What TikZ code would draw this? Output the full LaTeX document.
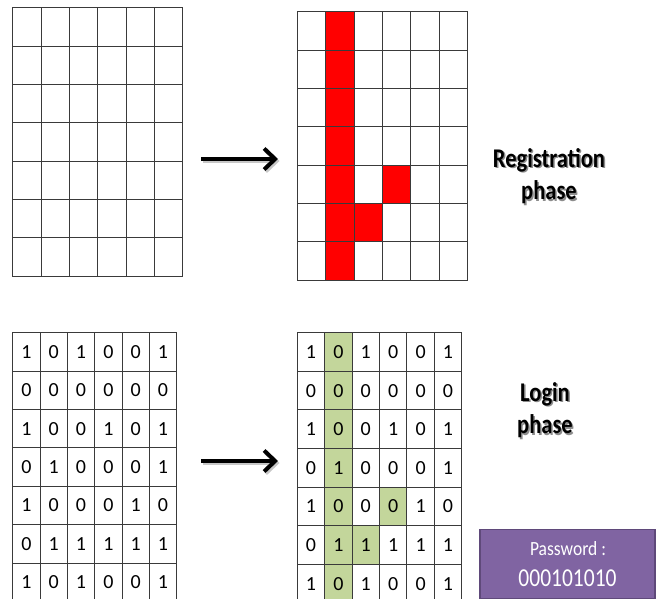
\documentclass[tikz,border=0pt]{standalone}
\usepackage{fontspec}
\setmainfont{Carlito}
\usetikzlibrary{arrows.meta}
\definecolor{gridc}{HTML}{3A3A3A}
\definecolor{cellred}{HTML}{FF0000}
\definecolor{cellgreen}{HTML}{C3D69B}
\definecolor{pwfill}{HTML}{8064A2}
\definecolor{pwdraw}{HTML}{5F497A}
\tikzset{
  cellA/.style={draw=gridc, line width=0.9pt, inner sep=0pt, outer sep=0pt,
    minimum width=28.33pt, minimum height=38.33pt},
  cellB/.style={draw=gridc, line width=0.9pt, inner sep=0pt, outer sep=0pt,
    minimum width=27.35pt, minimum height=38.4pt, font=\fontsize{20}{24}\selectfont},
  redcell/.style={fill=cellred, inner sep=0pt, outer sep=0pt,
    minimum width=28.33pt, minimum height=38.33pt},
  greencell/.style={fill=cellgreen, inner sep=0pt, outer sep=0pt,
    minimum width=27.35pt, minimum height=38.4pt},
  bigarrow/.style={line width=4pt, -{Straight Barb[length=11pt,width=21pt]}},
  arrowshadow/.style={bigarrow, draw=black!22},
  phase/.style={inner sep=0pt, font=\fontsize{22.5}{27}\selectfont\bfseries},
  phaseshadow/.style={phase, text=black!45},
  pwbox/.style={fill=pwfill, draw=pwdraw, line width=1.5pt, minimum width=175pt,
    minimum height=69pt, inner sep=0pt}
}
\newcommand{\phasetext}[2]{\scalebox{1}[1.2]{\begin{tabular}{@{}c@{}}#1\\#2\end{tabular}}}
\begin{document}
\begin{tikzpicture}[x=1pt,y=-1pt]
\clip (0,0) rectangle (659,599);
\fill[white] (0,0) rectangle (659,599);
% top-left empty grid
\foreach \r in {0,...,6}{\foreach \c in {0,...,5}{
  \node[cellA] (tl-\r-\c) at ({12.7+(\c+0.5)*28.33},{7.7+(\r+0.5)*38.33}) {};
}}
% top-right grid with red pattern
\foreach \r/\c in {0/1,1/1,2/1,3/1,4/1,5/1,6/1,4/3,5/2}{
  \node[redcell] (red-\r-\c) at ({297.3+(\c+0.5)*28.33},{11.7+(\r+0.5)*38.33}) {};
}
\foreach \r in {0,...,6}{\foreach \c in {0,...,5}{
  \node[cellA] (tr-\r-\c) at ({297.3+(\c+0.5)*28.33},{11.7+(\r+0.5)*38.33}) {};
}}
% bottom-left digit grid
\foreach \row [count=\r from 0] in {{1,0,1,0,0,1},{0,0,0,0,0,0},{1,0,0,1,0,1},{0,1,0,0,0,1},{1,0,0,0,1,0},{0,1,1,1,1,1},{1,0,1,0,0,1}}{
  \foreach \d [count=\c from 0] in \row {
    \node[cellB] (bl-\r-\c) at ({12.7+(\c+0.5)*27.33},{332.7+(\r+0.5)*38.4}) {\d};
}}
% bottom-right digit grid with green pattern
\foreach \r/\c in {0/1,1/1,2/1,3/1,4/1,5/1,6/1,4/3,5/2}{
  \node[greencell, minimum width=27.4pt, minimum height=38.6pt] (green-\r-\c) at ({297.3+(\c+0.5)*27.4},{332.7+(\r+0.5)*38.6}) {};
}
\foreach \row [count=\r from 0] in {{1,0,1,0,0,1},{0,0,0,0,0,0},{1,0,0,1,0,1},{0,1,0,0,0,1},{1,0,0,0,1,0},{0,1,1,1,1,1},{1,0,1,0,0,1}}{
  \foreach \d [count=\c from 0] in \row {
    \node[cellB, minimum width=27.4pt, minimum height=38.6pt] (br-\r-\c) at ({297.3+(\c+0.5)*27.4},{332.7+(\r+0.5)*38.6}) {\d};
}}
% arrows
\coordinate (a1s) at (201,159);
\coordinate (a1e) at (278,159);
\coordinate (a2s) at (201,461);
\coordinate (a2e) at (278,461);
\coordinate (a1ss) at (202.5,161);
\coordinate (a1es) at (279.5,161);
\coordinate (a2ss) at (202.5,463);
\coordinate (a2es) at (279.5,463);
\draw[arrowshadow] (a1ss) -- (a1es);
\draw[arrowshadow] (a2ss) -- (a2es);
\draw[bigarrow] (a1s) -- (a1e);
\draw[bigarrow] (a2s) -- (a2e);
% phase labels
\node[phaseshadow] (regsh) at (550.5,178.5) {\phasetext{Registration}{phase}};
\node[phase] (reg) at (549,177) {\phasetext{Registration}{phase}};
\node[phaseshadow] (logsh) at (546.5,412.5) {\phasetext{Login}{phase}};
\node[phase] (log) at (545,411) {\phasetext{Login}{phase}};
% password box
\node[pwbox] (pw) at (567.5,563.8) {};
\node[text=white, font=\fontsize{17.5}{20}\selectfont] (pwl) at (568,549) {\scalebox{1}[1.15]{Password :}};
\node[text=white, font=\fontsize{21.5}{24}\selectfont] (pwv) at (567.5,578) {\scalebox{1}[1.2]{000101010}};
\end{tikzpicture}
\end{document}
